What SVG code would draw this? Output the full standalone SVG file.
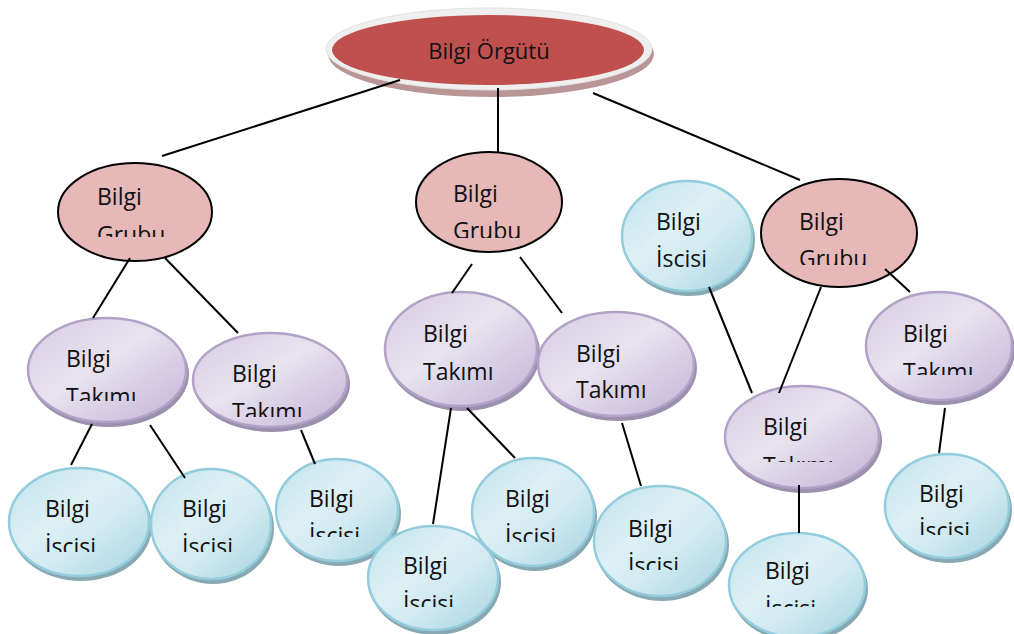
<svg xmlns="http://www.w3.org/2000/svg" width="1014" height="634" viewBox="0 0 1014 634">
  <defs>
    <linearGradient id="gBlue" x1="0" y1="0" x2="1" y2="1">
      <stop offset="0" stop-color="#bfe2eb"/>
      <stop offset="0.4" stop-color="#ddf0f5"/>
      <stop offset="0.6" stop-color="#d2eaf1"/>
      <stop offset="1" stop-color="#a6d4e0"/>
    </linearGradient>
    <linearGradient id="gPurple" x1="0" y1="0" x2="1" y2="1">
      <stop offset="0" stop-color="#d6cce3"/>
      <stop offset="0.45" stop-color="#e8e3ef"/>
      <stop offset="0.6" stop-color="#ddd5e8"/>
      <stop offset="1" stop-color="#c2b3d5"/>
    </linearGradient>
    <clipPath id="cG1"><rect x="0" y="0" width="1014" height="237"/></clipPath>
    <clipPath id="cG2"><rect x="0" y="0" width="1014" height="238"/></clipPath>
    <clipPath id="cG3"><rect x="0" y="0" width="1014" height="265"/></clipPath>
    <clipPath id="cT1"><rect x="0" y="0" width="1014" height="401"/></clipPath>
    <clipPath id="cT2"><rect x="0" y="0" width="1014" height="417"/></clipPath>
    <clipPath id="cT5"><rect x="0" y="0" width="1014" height="375"/></clipPath>
    <clipPath id="cT6"><rect x="0" y="0" width="1014" height="462"/></clipPath>
    <clipPath id="cI1"><rect x="0" y="0" width="1014" height="552"/></clipPath>
    <clipPath id="cI3"><rect x="0" y="0" width="1014" height="537"/></clipPath>
    <clipPath id="cI4"><rect x="0" y="0" width="1014" height="607"/></clipPath>
    <clipPath id="cI5"><rect x="0" y="0" width="1014" height="542"/></clipPath>
    <clipPath id="cI6"><rect x="0" y="0" width="1014" height="570"/></clipPath>
    <clipPath id="cI7"><rect x="0" y="0" width="1014" height="607"/></clipPath>
    <clipPath id="cI8"><rect x="0" y="0" width="1014" height="535"/></clipPath>
  </defs>
  <style>
    text { font-family: "Open Sans", "Noto Sans", "Liberation Sans", sans-serif; font-size: 23px; fill: #111; }
    .top { font-size: 22px; }
    .grp { fill: #e6b8b7; stroke: #000; stroke-width: 2; }
    .team { fill: url(#gPurple); stroke: #b3a2c7; stroke-width: 2.5; }
    .teamShadow { fill: #9d8fae; }
    .worker { fill: url(#gBlue); stroke: #93cddd; stroke-width: 2.5; }
    .workerShadow { fill: #88a9b2; }
    .conn line { stroke: #000; stroke-width: 2; }
  </style>
  <rect width="1014" height="634" fill="#fff"/>

  <!-- organisation root -->
  <g id="orgut">
    <ellipse cx="491" cy="54" rx="163" ry="43" fill="#b99595"/>
    <ellipse cx="489" cy="49" rx="163" ry="41" fill="#efefef" stroke="#e2e2e2" stroke-width="1"/>
    <ellipse cx="488" cy="50" rx="156" ry="35" fill="#c0504d"/>
    <text class="top" x="489" y="59" text-anchor="middle">Bilgi Örgütü</text>
  </g>

  <!-- groups -->
  <g id="grup1">
    <ellipse class="grp" cx="135" cy="212" rx="77" ry="49"/>
    <text x="97" y="205">Bilgi</text>
    <text x="97" y="243" clip-path="url(#cG1)">Grubu</text>
  </g>
  <g id="grup2">
    <ellipse class="grp" cx="489" cy="202" rx="73" ry="50"/>
    <text x="453" y="202">Bilgi</text>
    <text x="453" y="239" clip-path="url(#cG2)">Grubu</text>
  </g>
  <g id="grup3">
    <ellipse class="grp" cx="839" cy="233" rx="78" ry="54"/>
    <text x="799" y="230">Bilgi</text>
    <text x="799" y="267" clip-path="url(#cG3)">Grubu</text>
  </g>

  <!-- teams -->
  <g id="takim1">
    <ellipse class="teamShadow" cx="109" cy="374" rx="80" ry="53"/>
    <ellipse class="team" cx="107" cy="370" rx="79" ry="52"/>
    <text x="66" y="367">Bilgi</text>
    <text x="66" y="405" clip-path="url(#cT1)">Takımı</text>
  </g>
  <g id="takim2">
    <ellipse class="teamShadow" cx="272" cy="384" rx="78" ry="48"/>
    <ellipse class="team" cx="270" cy="380" rx="77" ry="47"/>
    <text x="232" y="382">Bilgi</text>
    <text x="232" y="420" clip-path="url(#cT2)">Takımı</text>
  </g>
  <g id="takim3">
    <ellipse class="teamShadow" cx="463" cy="353" rx="77" ry="58"/>
    <ellipse class="team" cx="461" cy="349" rx="76" ry="57"/>
    <text x="423" y="342">Bilgi</text>
    <text x="423" y="380">Takımı</text>
  </g>
  <g id="takim4">
    <ellipse class="teamShadow" cx="618" cy="368" rx="79" ry="53"/>
    <ellipse class="team" cx="616" cy="364" rx="78" ry="52"/>
    <text x="576" y="362">Bilgi</text>
    <text x="576" y="398">Takımı</text>
  </g>
  <g id="takim5">
    <ellipse class="teamShadow" cx="941" cy="350" rx="74" ry="55"/>
    <ellipse class="team" cx="939" cy="346" rx="73" ry="54"/>
    <text x="903" y="342">Bilgi</text>
    <text x="903" y="380" clip-path="url(#cT5)">Takımı</text>
  </g>
  <g id="takim6">
    <ellipse class="teamShadow" cx="804" cy="441" rx="78" ry="52"/>
    <ellipse class="team" cx="802" cy="437" rx="77" ry="51"/>
    <text x="763" y="435">Bilgi</text>
    <text x="763" y="474" clip-path="url(#cT6)">Takımı</text>
  </g>

  <!-- workers -->
  <g id="isci0">
    <ellipse class="workerShadow" cx="689" cy="240" rx="66" ry="56"/>
    <ellipse class="worker" cx="687" cy="236" rx="65" ry="55"/>
    <text x="656" y="230">Bilgi</text>
    <text x="656" y="267">İscisi</text>
  </g>
  <g id="isci1">
    <ellipse class="workerShadow" cx="81" cy="526" rx="71" ry="55"/>
    <ellipse class="worker" cx="79" cy="522" rx="70" ry="54"/>
    <text x="45" y="517">Bilgi</text>
    <text x="45" y="555" clip-path="url(#cI1)">İscisi</text>
  </g>
  <g id="isci2">
    <ellipse class="workerShadow" cx="213" cy="528" rx="61" ry="56"/>
    <ellipse class="worker" cx="211" cy="524" rx="60" ry="55"/>
    <text x="182" y="517">Bilgi</text>
    <text x="182" y="555" clip-path="url(#cI1)">İscisi</text>
  </g>
  <g id="isci3">
    <ellipse class="workerShadow" cx="339" cy="514" rx="62" ry="52"/>
    <ellipse class="worker" cx="337" cy="510" rx="61" ry="51"/>
    <text x="309" y="507">Bilgi</text>
    <text x="309" y="544" clip-path="url(#cI3)">İscisi</text>
  </g>
  <g id="isci5">
    <ellipse class="workerShadow" cx="535" cy="516" rx="62" ry="55"/>
    <ellipse class="worker" cx="533" cy="512" rx="61" ry="54"/>
    <text x="505" y="507">Bilgi</text>
    <text x="505" y="545" clip-path="url(#cI5)">İscisi</text>
  </g>
  <g id="isci4">
    <ellipse class="workerShadow" cx="435" cy="582" rx="66" ry="53"/>
    <ellipse class="worker" cx="433" cy="578" rx="65" ry="52"/>
    <text x="403" y="574">Bilgi</text>
    <text x="403" y="612" clip-path="url(#cI4)">İscisi</text>
  </g>
  <g id="isci6">
    <ellipse class="workerShadow" cx="662" cy="545" rx="67" ry="56"/>
    <ellipse class="worker" cx="660" cy="541" rx="66" ry="55"/>
    <text x="628" y="537">Bilgi</text>
    <text x="628" y="574" clip-path="url(#cI6)">İscisi</text>
  </g>
  <g id="isci7">
    <ellipse class="workerShadow" cx="799" cy="589" rx="69" ry="53"/>
    <ellipse class="worker" cx="797" cy="585" rx="68" ry="52"/>
    <text x="765" y="579">Bilgi</text>
    <text x="765" y="617" clip-path="url(#cI7)">İscisi</text>
  </g>
  <g id="isci8">
    <ellipse class="workerShadow" cx="949" cy="510" rx="63" ry="53"/>
    <ellipse class="worker" cx="947" cy="506" rx="62" ry="52"/>
    <text x="919" y="502">Bilgi</text>
    <text x="919" y="539" clip-path="url(#cI8)">İscisi</text>
  </g>

  <!-- connectors -->
  <g class="conn" id="connectors">
    <line x1="400" y1="80" x2="162" y2="156"/>
    <line x1="498" y1="88" x2="498" y2="153"/>
    <line x1="593" y1="93" x2="800" y2="180"/>
    <line x1="130" y1="258" x2="93" y2="318"/>
    <line x1="165" y1="258" x2="238" y2="333"/>
    <line x1="472" y1="264" x2="452" y2="293"/>
    <line x1="520" y1="257" x2="562" y2="313"/>
    <line x1="821" y1="287" x2="779" y2="393"/>
    <line x1="885" y1="269" x2="910" y2="292"/>
    <line x1="709" y1="287" x2="752" y2="393"/>
    <line x1="92" y1="424" x2="71" y2="465"/>
    <line x1="150" y1="425" x2="185" y2="478"/>
    <line x1="301" y1="430" x2="315" y2="464"/>
    <line x1="451" y1="408" x2="433" y2="524"/>
    <line x1="467" y1="408" x2="515" y2="458"/>
    <line x1="622" y1="423" x2="641" y2="486"/>
    <line x1="799" y1="485" x2="799" y2="533"/>
    <line x1="945" y1="408" x2="939" y2="453"/>
  </g>
</svg>
